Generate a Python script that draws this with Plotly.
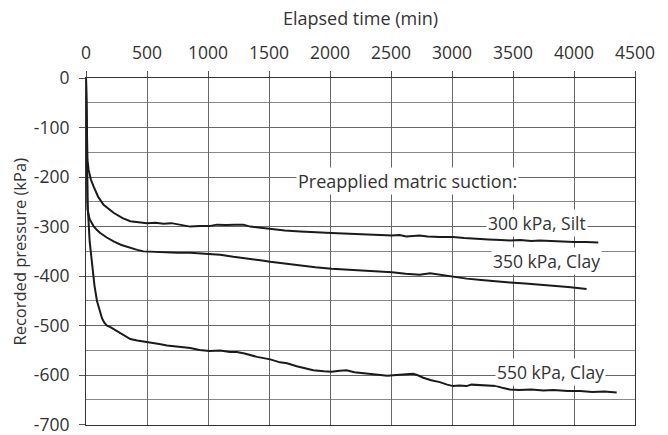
import plotly.graph_objects as go

# Elapsed time (min) and recorded pressure (kPa) per series
silt300_t = [0, 5, 12, 21, 40, 62, 100, 144, 190, 226, 300, 363, 430, 500, 570, 636, 700, 773, 854, 930,
             1010, 1073, 1150, 1220, 1290, 1346, 1420, 1510, 1630, 1756, 1880, 2013, 2110, 2218, 2350, 2508,
             2570, 2626, 2735, 2800, 2900, 3010, 3100, 3200, 3300, 3400, 3475, 3560, 3650, 3720, 3803, 3900,
             4000, 4100, 4199]
silt300_p = [0, -110, -165, -185, -205, -219, -240, -256, -266, -272, -283, -289, -291, -293, -292, -294, -293,
             -296, -300, -299, -299, -296, -297, -296, -296, -300, -302, -305, -308, -310, -312, -313, -314, -315,
             -316, -318, -317, -320, -318, -320, -321, -321, -323, -325, -326, -327, -328, -327, -329, -328, -329,
             -330, -331, -331, -332]

clay350_t = [0, 5, 13, 30, 62, 90, 117, 170, 226, 290, 363, 420, 472, 550, 636, 750, 854, 930, 1010, 1100,
             1208, 1280, 1346, 1430, 1510, 1630, 1756, 1880, 2013, 2100, 2190, 2270, 2354, 2430, 2508, 2620,
             2735, 2820, 2900, 3010, 3120, 3240, 3360, 3475, 3600, 3720, 3830, 3950, 4030, 4103]
clay350_p = [0, -150, -266, -285, -299, -307, -313, -322, -330, -337, -343, -347, -350, -351, -352, -353, -353,
             -354, -355, -357, -361, -363, -365, -368, -371, -375, -379, -382, -385, -386, -387, -388, -389, -391,
             -392, -395, -397, -394, -397, -402, -405, -408, -411, -413, -415, -417, -419, -422, -424, -426]

clay550_t = [0, 4, 12, 30, 50, 70, 90, 110, 131, 150, 172, 200, 226, 260, 300, 363, 420, 513, 600, 664, 760,
             855, 930, 1013, 1100, 1180, 1237, 1300, 1401, 1510, 1590, 1647, 1727, 1800, 1863, 1950, 2013, 2080,
             2136, 2200, 2245, 2330, 2408, 2470, 2518, 2600, 2681, 2720, 2764, 2830, 2900, 2960, 3010, 3060,
             3119, 3160, 3228, 3300, 3364, 3420, 3475, 3550, 3650, 3750, 3830, 3950, 4050, 4150, 4250, 4350]
clay550_p = [0, -120, -250, -330, -380, -420, -450, -470, -485, -494, -500, -503, -507, -512, -518, -527, -530,
             -533, -537, -540, -543, -545, -549, -551, -550, -553, -553, -556, -563, -568, -574, -576, -582, -587,
             -590, -592, -593, -591, -590, -594, -595, -598, -600, -601, -600, -598, -597, -600, -605, -610, -614,
             -619, -622, -621, -622, -619, -620, -622, -622, -626, -629, -630, -629, -631, -630, -632, -632, -634,
             -633, -635]

series_names = ["300 kPa, Silt", "350 kPa, Clay", "550 kPa, Clay"]
label_t = [3700, 3776, 3809]
label_p = [-292, -370, -594]

x_ticks = list(range(0, 4501, 500))
y_ticks = list(range(-700, 1, 100))
y_ticktext = [str(v) for v in y_ticks]  # plain hyphen minus as in the original

FONT = "Open Sans"
TXT = "#333333"
FS = 17.5

fig = go.Figure()
for t, p, name in zip([silt300_t, clay350_t, clay550_t], [silt300_p, clay350_p, clay550_p], series_names):
    fig.add_trace(go.Scatter(x=t, y=p, mode="lines", name=name,
                             line=dict(color="#1a1a1a", width=2), showlegend=False, cliponaxis=False))

annotations = [dict(x=2633, y=-207, xref="x", yref="y", text="Preapplied matric suction:",
                    showarrow=False, bgcolor="white", font=dict(size=18, color=TXT, family=FONT))]
for name, t, p in zip(series_names, label_t, label_p):
    annotations.append(dict(x=t, y=p, xref="x", yref="y", text=name, showarrow=False,
                            bgcolor="white", font=dict(size=FS, color=TXT, family=FONT)))
annotations.append(dict(x=(19 - 86) / 549, y=0.50, xref="paper", yref="paper",
                        xanchor="center", yanchor="middle", text="Recorded pressure (kPa)",
                        textangle=-90, showarrow=False, font=dict(size=16.5, color=TXT, family=FONT)))

fig.update_layout(
    width=668, height=435,
    margin=dict(l=86, r=33, t=78, b=10, autoexpand=False),
    paper_bgcolor="white", plot_bgcolor="white",
    font=dict(family=FONT, size=FS, color=TXT),
    annotations=annotations,
    xaxis=dict(side="top", range=[0, 4500], tickvals=x_ticks, ticks="outside", ticklen=6,
               tickcolor="#555", showgrid=True, gridcolor="#666", gridwidth=1,
               showline=True, linecolor="#333", mirror=True, zeroline=False, automargin=False,
               title=dict(text="Elapsed time (min)", standoff=9, font=dict(size=18, color=TXT)),
               ticklabelstandoff=5),
    yaxis=dict(range=[-700.5, 0], tickvals=y_ticks, ticktext=y_ticktext, ticks="outside", ticklen=6,
               tickcolor="#555", showgrid=True, gridcolor="#666", gridwidth=1,
               minor=dict(dtick=50, showgrid=True, gridcolor="#888", gridwidth=1, ticks=""),
               showline=True, linecolor="#333", mirror=True, zeroline=False, automargin=False,
               ticklabelstandoff=6, ticklabeloverflow="allow"),
)

fig.write_html("out.html")
